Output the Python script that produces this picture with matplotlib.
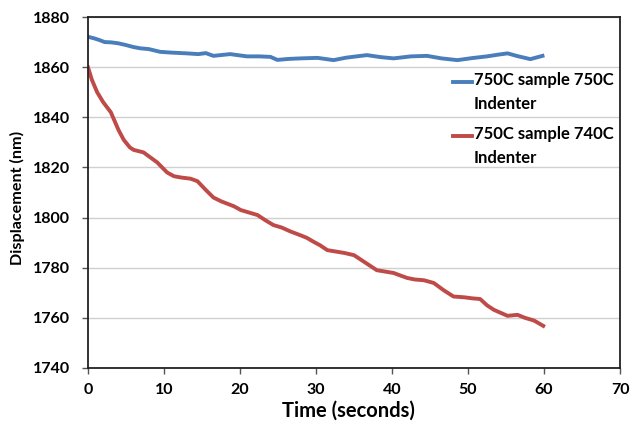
import matplotlib
matplotlib.use("Agg")
import matplotlib.pyplot as plt
from matplotlib.legend_handler import HandlerLine2D

# values
t_blue = [0, 0.8, 1.5, 2.2, 3.0, 4.0, 5.0, 6.0, 6.9, 8.0, 9.5, 11.0, 13.0, 14.5, 15.5,
          16.5, 18.7, 20.9, 22.5, 24.0, 24.9, 26.5, 28.0, 30.2, 32.3, 34.0, 36.7, 38.5,
          40.2, 42.5, 44.6, 46.5, 48.6, 50.5, 52.5, 54.0, 55.2, 56.5, 58.2, 59.8]
d_blue = [1872.1, 1871.5, 1870.8, 1870.0, 1869.9, 1869.5, 1868.8, 1868.0, 1867.5, 1867.2,
          1866.1, 1865.8, 1865.5, 1865.2, 1865.6, 1864.5, 1865.2, 1864.3, 1864.3, 1864.1,
          1862.9, 1863.3, 1863.5, 1863.7, 1862.8, 1863.8, 1864.8, 1864.0, 1863.5, 1864.3,
          1864.5, 1863.5, 1862.8, 1863.6, 1864.3, 1865.0, 1865.5, 1864.4, 1863.2, 1864.5]

t_red = [0, 0.5, 1.2, 2.0, 3.0, 4.0, 4.7, 5.5, 6.0, 7.3, 8.2, 9.1, 10.4, 11.3, 12.2, 13.5,
         14.4, 15.5, 16.5, 17.5, 19.2, 20.1, 21.2, 22.3, 23.3, 24.4, 25.5, 26.6, 27.9, 28.8,
         29.7, 30.5, 31.5, 32.5, 33.7, 35.0, 36.5, 38.0, 39.0, 40.2, 41.0, 42.0, 43.0, 44.2,
         45.5, 46.8, 48.1, 49.5, 50.5, 51.6, 52.5, 53.4, 54.3, 55.2, 56.5, 57.5, 58.7, 59.9]
d_red = [1859.9, 1855.0, 1850.0, 1846.0, 1842.0, 1835.0, 1831.0, 1828.0, 1827.0, 1826.0,
         1824.0, 1822.0, 1818.0, 1816.5, 1816.0, 1815.5, 1814.5, 1811.0, 1808.0, 1806.5,
         1804.5, 1803.0, 1802.0, 1801.0, 1799.0, 1797.0, 1796.0, 1794.5, 1793.0, 1791.9,
         1790.3, 1789.0, 1787.0, 1786.5, 1785.9, 1785.0, 1782.0, 1779.0, 1778.5, 1777.9,
         1777.0, 1775.9, 1775.3, 1775.0, 1773.9, 1771.0, 1768.5, 1768.2, 1767.8, 1767.5,
         1765.0, 1763.2, 1762.0, 1760.8, 1761.2, 1760.0, 1758.9, 1756.8]

labels = ["750C sample 750C\nIndenter", "750C sample 740C\nIndenter"]
x_ticks = [0, 10, 20, 30, 40, 50, 60, 70]
y_ticks = [1740, 1760, 1780, 1800, 1820, 1840, 1860, 1880]


class TopLineHandler(HandlerLine2D):
    # Excel puts the legend line next to the first line of a wrapped label
    def create_artists(self, legend, orig_handle, xdescent, ydescent, width, height,
                       fontsize, trans):
        arts = super().create_artists(legend, orig_handle, xdescent, ydescent, width,
                                      height, fontsize, trans)
        for a in arts:
            a.set_ydata([y + 0.66 * fontsize for y in a.get_ydata()])
        return arts


plt.rcParams["font.family"] = ["Lato", "DejaVu Sans"]
plt.rcParams["font.weight"] = "bold"

fig = plt.figure(figsize=(6.31, 4.22), dpi=100)
ax = fig.add_axes([0.1395, 0.128, 0.8431, 0.8317])

ax.plot(t_blue, d_blue, color="#4A7EBB", lw=2.8, label=labels[0])
ax.plot(t_red, d_red, color="#BE4B48", lw=2.8, label=labels[1])

ax.set_xlim(0, 70)
ax.set_ylim(1740, 1880)
ax.set_xticks(x_ticks)
ax.set_yticks(y_ticks)
ax.yaxis.grid(True, color="#D0D0D0", lw=1.0)
ax.set_axisbelow(True)
for sp in ax.spines.values():
    sp.set_color("#222222")
    sp.set_linewidth(1.3)
ax.tick_params(direction="out", length=4, width=1, color="#555555", labelsize=11.5)
ax.tick_params(axis="x", pad=7)
ax.tick_params(axis="y", pad=9)
for lab in ax.get_xticklabels() + ax.get_yticklabels():
    lab.set_fontweight("bold")

ax.set_xlabel("Time (seconds)", fontsize=14.5, fontweight="bold")
ax.set_ylabel("Displacement (nm)", fontsize=11.6, fontweight="bold")
ax.xaxis.set_label_coords(0.489, -0.092)
ax.yaxis.set_label_coords(-0.118, 0.484)

leg = ax.legend(loc="upper right", bbox_to_anchor=(1.0, 0.862), frameon=False,
                fontsize=12, handlelength=1.15, handletextpad=0.1, labelspacing=0.85,
                borderaxespad=0.0, handler_map={plt.Line2D: TopLineHandler()})
for txt in leg.get_texts():
    txt.set_fontweight("bold")
    txt.set_linespacing(1.6)

fig.savefig("out.png", dpi=100)
